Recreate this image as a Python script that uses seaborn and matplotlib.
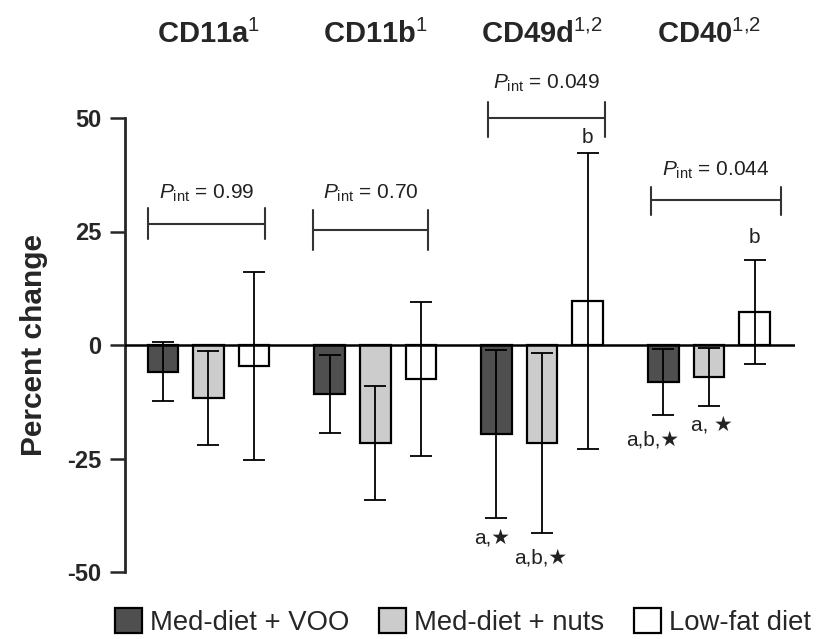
import matplotlib
matplotlib.use("Agg")
import matplotlib.pyplot as plt
import seaborn as sns
import pandas as pd
from matplotlib.patches import Patch

# ---- data ----
markers = ["CD11a", "CD11b", "CD49d", "CD40"]
title_sup = ["1", "1", "1{,}2", "1{,}2"]
diets = ["Med-diet + VOO", "Med-diet + nuts", "Low-fat diet"]
voo = [-5.9, -10.8, -19.6, -8.1]
nuts = [-11.7, -21.6, -21.6, -7.0]
lowfat = [-4.7, -7.5, 9.7, 7.3]
voo_err = [6.5, 8.6, 18.4, 7.3]
nuts_err = [10.3, 12.5, 19.8, 6.4]
lowfat_err = [20.7, 17.0, 32.6, 11.4]
p_int = ["0.99", "0.70", "0.049", "0.044"]
colors = ["#4f4f4f", "#cccccc", "#ffffff"]

sns.set_style("white")
plt.rcParams["font.family"] = ["Liberation Sans", "DejaVu Sans"]
plt.rcParams["mathtext.fontset"] = "custom"
plt.rcParams["mathtext.rm"] = "Liberation Sans"
plt.rcParams["mathtext.it"] = "Liberation Sans:italic"
plt.rcParams["mathtext.bf"] = "Liberation Sans:bold"

rows = []
for d, vals, errs in zip(diets, [voo, nuts, lowfat], [voo_err, nuts_err, lowfat_err]):
    for m, v, e in zip(markers, vals, errs):
        rows.append({"marker": m, "diet": d, "value": v, "err": e})
df = pd.DataFrame(rows)

fig = plt.figure(figsize=(8.23, 6.39), dpi=100)
ax = fig.add_axes([125 / 823, 1 - 572 / 639, 670 / 823, 454 / 639])

sns.barplot(data=df, x="marker", y="value", hue="diet", order=markers,
            hue_order=diets, palette=colors, edgecolor="black", linewidth=1.6,
            width=0.82, gap=0.33, errorbar=None, legend=False, ax=ax, zorder=2)

# error bars at the library-computed bar centers
patches = sorted(ax.patches, key=lambda p: p.get_x())
order = df.assign(mi=df["marker"].map({m: i for i, m in enumerate(markers)}),
                  di=df["diet"].map({d: i for i, d in enumerate(diets)})) \
          .sort_values(["mi", "di"]).reset_index(drop=True)
xs = [p.get_x() + p.get_width() / 2 for p in patches]
ax.errorbar(xs, order["value"], yerr=order["err"], fmt="none", ecolor="black",
            elinewidth=1.3, capsize=8, capthick=1.3, zorder=3)
bar_x = {(r.mi, r.di): x for r, x in zip(order.itertuples(), xs)}

ax.set_xlim(-0.50, 3.516)
ax.set_ylim(-50, 50)
ax.axhline(0, color="black", lw=1.8, zorder=4)
sns.despine(ax=ax, bottom=True)
ax.spines["left"].set_linewidth(2)
ax.set_xticks([])
ax.set_xlabel("")
ax.set_yticks([50, 25, 0, -25, -50])
ax.set_yticklabels(["50", "25", "0", "-25", "-50"], fontsize=17, fontweight="bold")
ax.tick_params(axis="y", direction="out", length=11, width=1.8, pad=6, left=True)
ax.set_ylabel("Percent change", fontsize=21.5, fontweight="bold", labelpad=14)

# titles
for i, (m, s) in enumerate(zip(markers, title_sup)):
    ax.text(i, 68.5, m + r"$^{" + s + r"}$", ha="center", va="center",
            fontsize=21, fontweight="bold", clip_on=False)

# P_int brackets
brackets = [(-0.363, 0.339, 26.7, 30.2, 23.3, 33.5),
            (0.627, 1.316, 25.3, 29.7, 20.9, 33.5),
            (1.676, 2.377, 50.0, 53.5, 45.8, 57.7),
            (2.653, 3.432, 31.9, 34.8, 28.6, 38.5)]
for (x0, x1, y, yt, yb, ty), p in zip(brackets, p_int):
    kw = dict(color="#333333", lw=1.5, clip_on=False, zorder=4)
    ax.plot([x0, x1], [y, y], **kw)
    ax.plot([x0, x0], [yb, yt], **kw)
    ax.plot([x1, x1], [yb, yt], **kw)
    ax.text((x0 + x1) / 2, ty, r"$P_{\mathrm{int}}$" + " = " + p, ha="center",
            va="center", fontsize=15, color="#222222", clip_on=False)

# significance letters
ann = [(bar_x[(2, 2)], 45.6, "b"), (bar_x[(3, 2)], 23.6, "b"),
       (1.70, -42.5, "a,★"), (1.99, -46.9, "a,b,★"),
       (2.66, -20.9, "a,b,★"), (3.02, -17.6, "a, ★")]
for x, y, t in ann:
    ax.text(x, y, t, ha="center", va="center", fontsize=15, clip_on=False,
            color="#222222")

handles = [Patch(facecolor=c, edgecolor="black", linewidth=1.6) for c in colors]
fig.legend(handles, diets, loc="center", bbox_to_anchor=(463 / 823, 1 - 622 / 639),
           ncol=3, frameon=False, fontsize=19.8, handlelength=1.0, handleheight=1.0,
           handletextpad=0.3, columnspacing=1.05, borderaxespad=0)

fig.savefig("out.png", dpi=100)
